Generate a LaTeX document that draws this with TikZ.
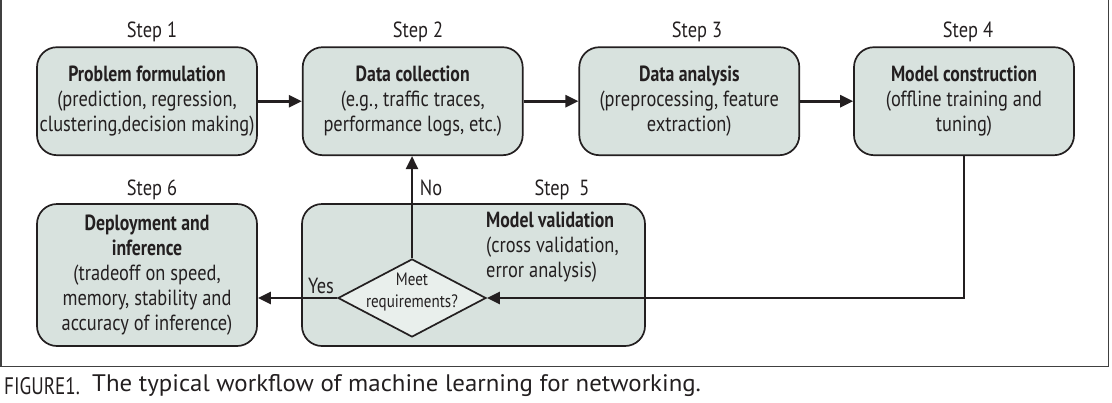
\documentclass[tikz,border=0pt]{standalone}
\usepackage{fontspec}
\setmainfont{PT Sans}[FakeStretch=0.84, BoldFeatures={FakeStretch=0.81}]
\newfontfamily\capfont{PT Sans}[FakeStretch=1.04]
\newfontfamily\figfont{PT Sans}[FakeStretch=0.8]
\usetikzlibrary{shapes.geometric,arrows.meta}
\definecolor{boxfill}{RGB}{216,226,222}
\definecolor{dmfill}{RGB}{233,239,236}
\definecolor{edge}{RGB}{35,31,32}
\begin{document}
\begin{tikzpicture}[x=1bp,y=-1bp,
  txt/.style={font=\fontsize{22}{25}\selectfont, inner sep=0pt, text=edge},
  stepbox/.style={draw=edge, line width=1.7bp, fill=boxfill, rounded corners=20bp,
     minimum width=220bp, minimum height=108bp, inner sep=0pt, align=center,
     font=\fontsize{22}{25}\selectfont, text=edge},
  arr/.style={draw=edge, line width=2.6bp, -{Triangle[length=13bp,width=12bp]}}
]
\useasboundingbox (0,0) rectangle (1112,402);
% frame
\draw[line width=1.2bp, draw=black!75] (1,-5) -- (1,366.5) -- (1108.5,366.5) -- (1108.5,-5);

% step labels
\node[txt] (s1) at (152,32) {Step 1};
\node[txt] (s2) at (418,32) {Step 2};
\node[txt] (s3) at (697,32) {Step 3};
\node[txt] (s4) at (968,32) {Step 4};
\node[txt] (s6) at (152,190) {Step 6};
\node[txt] (s5) at (562,190) {Step\ \ 5};

% top row
\node[stepbox] (b1) at (147,101.2) {\textbf{Problem formulation}\\(prediction, regression,\\clustering,decision making)};
\node[stepbox] (b2) at (412.7,101.2) {\textbf{Data collection}\\(e.g., traffic traces,\\performance logs, etc.)};
\node[stepbox] (b3) at (689.3,101.2) {\textbf{Data analysis}\\(preprocessing, feature\\extraction)};
\node[stepbox] (b4) at (964,101.2) {\textbf{Model construction}\\(offline training and\\tuning)};

% bottom row
\node[stepbox, minimum height=142bp] (b6) at (147,275) {\textbf{Deployment and}\\\textbf{inference}\\(tradeoff on speed,\\memory, stability and\\accuracy of inference)};
\node[stepbox, minimum width=343bp, minimum height=142bp] (b5) at (473.5,275) {};
\node[txt, anchor=west, align=left] (v5) at (486,247) {\textbf{Model validation}\\(cross validation,\\error analysis)};

% decision
\node[diamond, draw=edge, line width=1.7bp, fill=dmfill, minimum width=148bp, minimum height=78bp, inner sep=0pt] (dm) at (412,298) {};
\node[inner sep=0pt, align=center, text=edge, font=\fontsize{18}{22.7}\selectfont] (dmt) at (412,292) {Meet\\requirements?};

% connectors
\draw[arr] (b1) -- (b2);
\draw[arr] (b2) -- (b3);
\draw[arr] (b3) -- (b4);
\draw[arr] (b4.south) |- (dm.east);
\draw[arr] (dm.north) -- (dm.north |- b2.south);
\draw[arr] (dm.west) -- (dm.west -| b6.east);

\node[txt] (no) at (431,188) {No};
\node[txt] (yes) at (321,286) {Yes};

% caption
\node[inner sep=0pt, anchor=west, text=edge, font=\figfont\fontsize{24}{26}\selectfont] (fig) at (4,386) {FIGURE1.};
\node[inner sep=0pt, anchor=west, text=edge, font=\capfont\fontsize{24}{26}\selectfont] (cap) at (92,386) {The typical workflow of machine learning for networking.};
\end{tikzpicture}
\end{document}
